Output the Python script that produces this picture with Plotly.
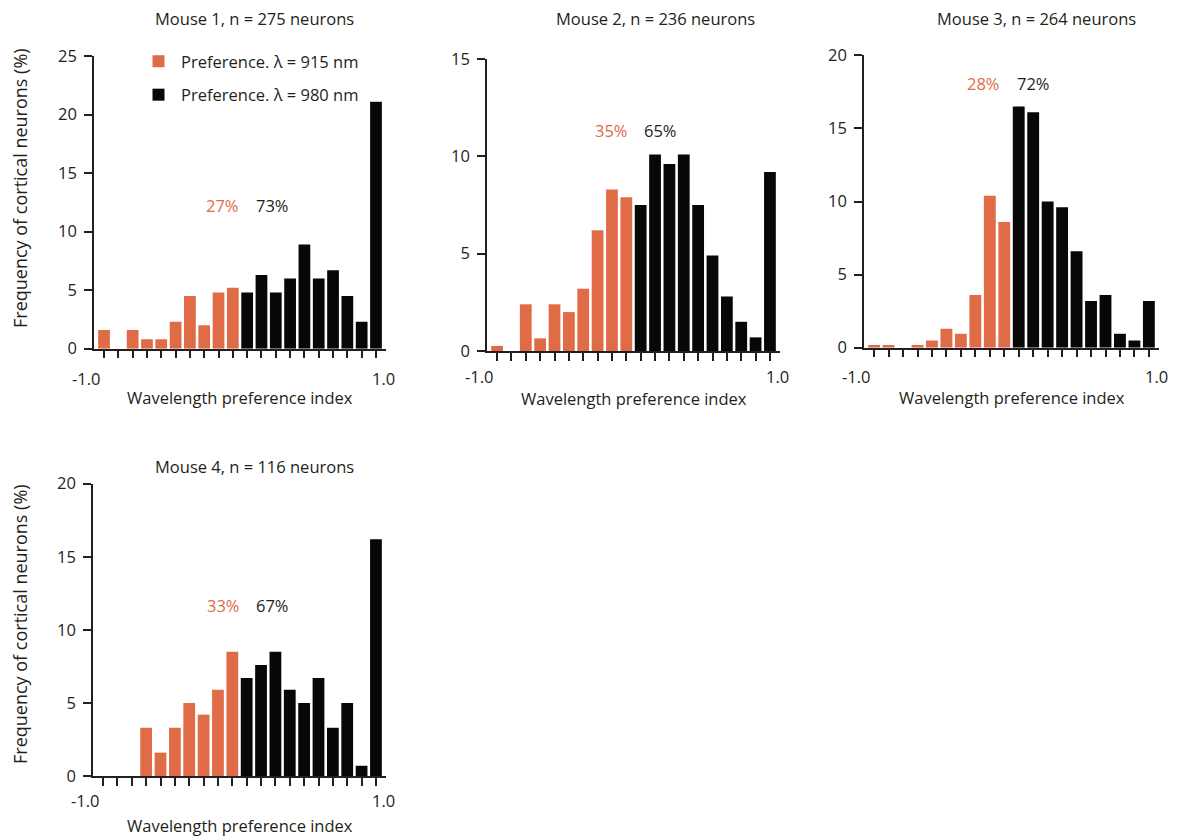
import plotly.graph_objects as go

# ---------------- data ----------------
bin_index = list(range(20))          # 20 bins of the wavelength preference index
split_bin = 10                       # bins 0-9 prefer 915 nm, bins 10-19 prefer 980 nm
x_end_labels = ["-1.0", "1.0"]

mouse_titles = ["Mouse 1, n = 275 neurons", "Mouse 2, n = 236 neurons",
                "Mouse 3, n = 264 neurons", "Mouse 4, n = 116 neurons"]

freq_mouse1 = [1.6, 0, 1.6, 0.8, 0.8, 2.3, 4.5, 2.0, 4.8, 5.2,
               4.8, 6.3, 4.8, 6.0, 8.9, 6.0, 6.7, 4.5, 2.3, 21.1]
freq_mouse2 = [0.26, 0, 2.4, 0.65, 2.4, 2.0, 3.2, 6.2, 8.3, 7.9,
               7.5, 10.1, 9.6, 10.1, 7.5, 4.9, 2.8, 1.5, 0.7, 9.2]
freq_mouse3 = [0.18, 0.18, 0, 0.18, 0.5, 1.3, 0.95, 3.6, 10.4, 8.6,
               16.5, 16.1, 10.0, 9.6, 6.6, 3.2, 3.6, 0.95, 0.5, 3.2]
freq_mouse4 = [0, 0, 0, 3.3, 1.6, 3.3, 5.0, 4.2, 5.9, 8.5,
               6.7, 7.6, 8.5, 5.9, 5.0, 6.7, 3.3, 5.0, 0.7, 16.2]

pct_915 = ["27%", "35%", "28%", "33%"]
pct_980 = ["73%", "65%", "72%", "67%"]
y_max = [25, 15, 20, 20]

legend_labels = ["Preference. \u03bb = 915 nm", "Preference. \u03bb = 980 nm"]
x_title = "Wavelength preference index"
y_title = "Frequency of cortical neurons (%)"

# ---------------- styling / layout ----------------
W, H = 1177, 838
ORANGE = "#E06C47"
BLACK = "#070707"
TEXT = "#231F20"
FONT = "Open Sans"
FS = 16.5
X_RANGE = (-0.7, 19.7)

all_freq = [freq_mouse1, freq_mouse2, freq_mouse3, freq_mouse4]

# panel pixel boxes: (left, right, top, bottom)
boxes = [(94, 386, 56, 348.7), (487, 780, 59, 351), (864, 1159, 55.3, 347.7), (93, 386, 483.7, 776)]
title_pos = [(254, 19), (655, 19), (1036, 19), (254, 466)]
pct_pos = [((8.3, 12.2), (11.8, 12.2)), ((8.0, 11.35), (11.4, 11.35)),
           ((7.58, 18.1), (11.03, 18.1)), ((8.37, 11.7), (11.8, 11.7))]
end_label_bin = (-1.25, 19.5)        # where the end labels sit, in bin units
end_label_y = [378, 377, 376, 800]
xtitle_y = [397, 398, 397, 825]
ytitle_pos = [(20, 188), (20, 624)]

fig = go.Figure()
annotations = []

def py(v):
    return (H - v) / H

for i, freq in enumerate(all_freq):
    xa = "x" if i == 0 else f"x{i+1}"
    ya = "y" if i == 0 else f"y{i+1}"
    fig.add_trace(go.Bar(x=bin_index[:split_bin], y=freq[:split_bin], xaxis=xa, yaxis=ya,
                         marker=dict(color=ORANGE, line=dict(width=0)), width=0.82,
                         name=legend_labels[0], showlegend=(i == 0), legendgroup="a"))
    fig.add_trace(go.Bar(x=bin_index[split_bin:], y=freq[split_bin:], xaxis=xa, yaxis=ya,
                         marker=dict(color=BLACK, line=dict(width=0)), width=0.82,
                         name=legend_labels[1], showlegend=(i == 0), legendgroup="b"))
    l, r, t, b = boxes[i]
    axis_common = dict(showline=True, linecolor=TEXT, linewidth=1.5, ticks="outside",
                       ticklen=8, tickwidth=1.5, tickcolor=TEXT, showgrid=False, zeroline=False,
                       automargin=False, tickfont=dict(family=FONT, size=FS, color=TEXT))
    fig.layout[f"xaxis{'' if i == 0 else i+1}"] = dict(
        axis_common, domain=[l / W, r / W], range=list(X_RANGE), anchor=ya,
        tickvals=bin_index, showticklabels=False)
    fig.layout[f"yaxis{'' if i == 0 else i+1}"] = dict(
        axis_common, domain=[py(b), py(t)], range=[0, y_max[i]], anchor=xa,
        tickvals=list(range(0, y_max[i] + 1, 5)), ticklabelstandoff=4)
    tx, ty = title_pos[i]
    annotations.append(dict(text=mouse_titles[i], x=tx / W, y=py(ty), xref="paper", yref="paper",
                            showarrow=False, xanchor="center", yanchor="middle",
                            font=dict(family=FONT, size=FS, color=TEXT)))
    (ox, oy), (bx, by) = pct_pos[i]
    annotations.append(dict(text=pct_915[i], x=ox, y=oy, xref=xa, yref=ya, showarrow=False,
                            font=dict(family=FONT, size=FS, color=ORANGE)))
    annotations.append(dict(text=pct_980[i], x=bx, y=by, xref=xa, yref=ya, showarrow=False,
                            font=dict(family=FONT, size=FS, color=TEXT)))
    for lab, lb in zip(x_end_labels, end_label_bin):
        frac = (lb - X_RANGE[0]) / (X_RANGE[1] - X_RANGE[0])
        annotations.append(dict(text=lab, x=(l + frac * (r - l)) / W, y=py(end_label_y[i]),
                                xref="paper", yref="paper",
                                showarrow=False, xanchor="center", yanchor="middle",
                                font=dict(family=FONT, size=FS, color=TEXT)))
    annotations.append(dict(text=x_title, x=(l + r) / 2 / W, y=py(xtitle_y[i]), xref="paper", yref="paper",
                            showarrow=False, xanchor="center", yanchor="middle",
                            font=dict(family=FONT, size=FS, color=TEXT)))

for (px_, py_) in ytitle_pos:
    annotations.append(dict(text=y_title, x=px_ / W, y=py(py_), xref="paper", yref="paper",
                            showarrow=False, textangle=-90, xanchor="center", yanchor="middle",
                            font=dict(family=FONT, size=18, color=TEXT)))

fig.update_layout(
    width=W, height=H, margin=dict(l=0, r=0, t=0, b=0, pad=0, autoexpand=False),
    paper_bgcolor="white", plot_bgcolor="white", barmode="overlay",
    annotations=annotations,
    legend=dict(x=136 / W, y=py(44), xanchor="left", yanchor="top", itemwidth=35,
                font=dict(family=FONT, size=FS, color=TEXT), tracegroupgap=9,
                bgcolor="rgba(0,0,0,0)", traceorder="grouped"),
    font=dict(family=FONT, color=TEXT),
)

fig.write_html("out.html", config={"displayModeBar": False},
               post_script="document.body.style.margin='0';")
